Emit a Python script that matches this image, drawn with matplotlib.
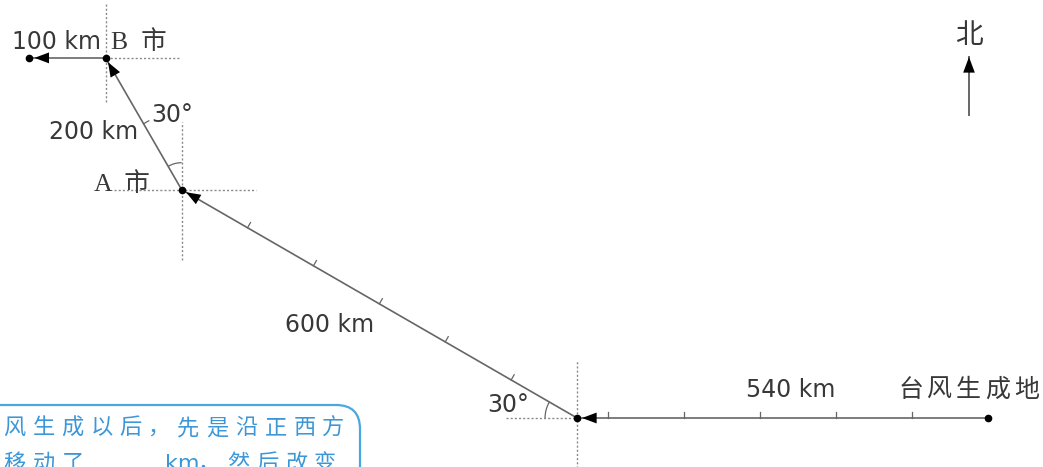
import re
import numpy as np
import matplotlib.pyplot as plt
from matplotlib.patches import FancyArrowPatch, FancyBboxPatch, Arc

plt.rcParams['font.family'] = ['DejaVu Sans', 'Noto Sans CJK SC']

# typhoon track: leg lengths (km) and bearings (deg clockwise from north)
leg_km = [540, 600, 200, 100]
leg_bearing = [270, 300, 330, 270]
leg_labels = ['540 km', '600 km', '200 km', '100 km']
tick_step = 100
angle_text = ['30°', '30°']
city_a = 'A  市'
city_b = 'B  市'
start_name = '台风生成地'
north_name = '北'
note_lines = ['风生成以后，先是沿正西方', '移动了　　  km，然后改变']

PX = 0.761          # pixels per km on the canvas
LINE = '#666666'
TXT = '#383838'
DOT = '#8a8a8a'
BLUE = '#3b97d8'

pts = [np.array([0.0, 0.0])]
for d, b in zip(leg_km, leg_bearing):
    r = np.radians(b)
    pts.append(pts[-1] + d * np.array([np.sin(r), np.cos(r)]))
pts = np.array(pts)

fig = plt.figure(figsize=(10.43, 4.67), dpi=100)
ax = fig.add_axes([0, 0, 1, 1])
ax.set_xlim(-988 / PX, (1043 - 988) / PX)
ax.set_ylim(-(467 - 418) / PX, 418 / PX)
ax.set_aspect('equal')
ax.axis('off')


def px(x, y):
    return (x - 988) / PX, (418 - y) / PX


def k(p):
    return p / PX


def head(tip, direction, size=14):
    tail = tip - direction * k(15)
    ax.add_patch(FancyArrowPatch(tail, tip, arrowstyle='-|>,head_length=0.75,head_width=0.28',
                                 mutation_scale=size, color='black', lw=0,
                                 shrinkA=0, shrinkB=0, zorder=5))


# dotted cross lines at P, A, B  (left, right, up, down in px)
cross = [(pts[1], 71, 0, 58, 60), (pts[2], 68, 74, 68, 70), (pts[3], 0, 75, 54, 44)]
for c, l, r, u, d in cross:
    ax.plot([c[0] - k(l), c[0] + k(r)], [c[1], c[1]], color=DOT, lw=1, ls=(0, (1.5, 1.5)), zorder=1)
    ax.plot([c[0], c[0]], [c[1] - k(d), c[1] + k(u)], color=DOT, lw=1, ls=(0, (1.5, 1.5)), zorder=1)

# track legs with tick marks and arrowheads
for i, (d, b) in enumerate(zip(leg_km, leg_bearing)):
    a, e = pts[i], pts[i + 1]
    u = (e - a) / d
    nrm = np.array([u[1], -u[0]])
    ax.plot([a[0], e[0]], [a[1], e[1]], color=LINE, lw=1.2, zorder=2)
    for t in np.arange(tick_step, d, tick_step):
        p = a + u * t
        q = p + nrm * k(6)
        ax.plot([p[0], q[0]], [p[1], q[1]], color=LINE, lw=0.9, zorder=2)
    head(e - u * k(5), u)

ax.plot(pts[:, 0], pts[:, 1], 'o', color='black', ms=4.5, zorder=6)

# angle arcs
ax.add_patch(Arc(pts[1], 2 * k(32), 2 * k(32), theta1=150, theta2=180, color=LINE, lw=0.9))
ax.add_patch(Arc(pts[2], 2 * k(27), 2 * k(27), theta1=90, theta2=120, color=LINE, lw=0.9))

fs = 17
ax.text(*px(791, 390), leg_labels[0], fontsize=fs, color=TXT, ha='center', va='center')
ax.text(*px(330, 325), leg_labels[1], fontsize=fs, color=TXT, ha='center', va='center')
ax.text(*px(94, 132), leg_labels[2], fontsize=fs, color=TXT, ha='center', va='center')
ax.text(*px(56, 42), leg_labels[3], fontsize=fs, color=TXT, ha='center', va='center')
ax.text(*px(508, 405), angle_text[0], fontsize=fs, color=TXT, ha='center', va='center')
ax.text(*px(172, 115), angle_text[1], fontsize=fs, color=TXT, ha='center', va='center')
ax.text(*px(94, 184), city_a, fontsize=18.5, color=TXT, ha='left', va='center',
        family=['Liberation Serif', 'Noto Sans CJK SC'])
ax.text(*px(111, 42), city_b, fontsize=18.5, color=TXT, ha='left', va='center',
        family=['Liberation Serif', 'Noto Sans CJK SC'])


def spaced(x0, y, s, step, size, color):
    cur = x0
    for ch in s:
        ax.text(*px(cur + step / 2, y), ch, fontsize=size, color=color, ha='center', va='center')
        cur += step


spaced(896, 390, start_name, 29, 18, TXT)

# north arrow
ax.text(*px(969, 35), north_name, fontsize=20, color=TXT, ha='center', va='center')
n0, n1 = np.array(px(969, 115)), np.array(px(969, 57))
ax.plot([n0[0], n1[0]], [n0[1], n1[1]], color=LINE, lw=1.4)
head(n1, np.array([0, 1.0]), size=15)

# note box (cut off at the bottom-left)
x0, y0 = px(-60, 520)
x1, y1 = px(360, 405)
ax.add_patch(FancyBboxPatch((x0, y0), x1 - x0, y1 - y0, boxstyle='round,pad=0,rounding_size=%f' % k(24),
                            fc='white', ec='#4aa8e0', lw=1.6, zorder=3))
for j, line in enumerate(note_lines):
    cur = 0
    for tok in re.findall(r'[A-Za-z]+|.', line):
        w = 29 if ord(tok[0]) > 255 else 12.5 * len(tok)
        ax.text(*px(cur + w / 2, 428 + 36 * j), tok, fontsize=16, color=BLUE, weight='medium',
                ha='center', va='center', zorder=4)
        cur += w

fig.savefig('out.png', dpi=100)
